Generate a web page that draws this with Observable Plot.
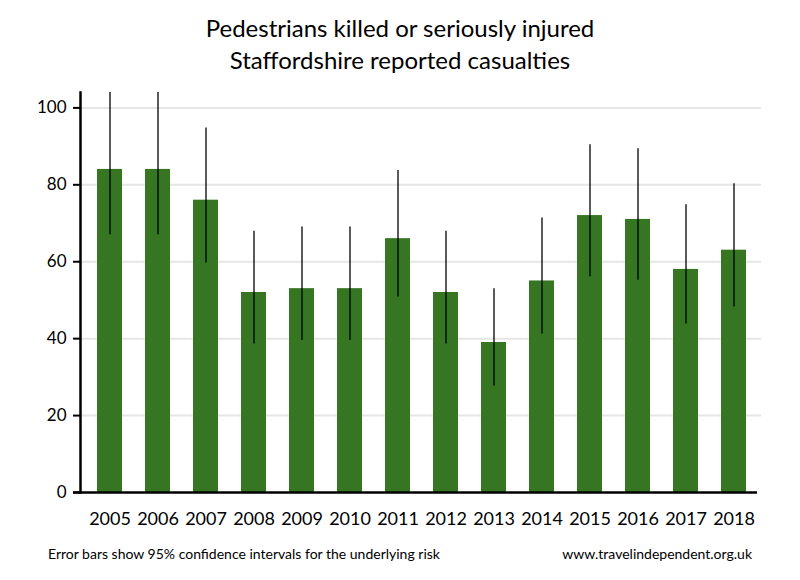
<!DOCTYPE html>
<html>
<head>
<meta charset="utf-8">
<script src="https://cdn.jsdelivr.net/npm/d3@7"></script>
<script src="https://cdn.jsdelivr.net/npm/@observablehq/plot@0.6"></script>
<style>
  body { margin: 0; background: #fff; font-family: Lato, "Open Sans", sans-serif; }
  #wrap { width: 800px; height: 580px; position: relative; }
  #title { height: 80px; text-align: center; font-size: 24px; line-height: 32px; color: #000; padding-top: 12px; box-sizing: border-box; }
  #footer { display: flex; justify-content: space-between; font-size: 14px; color: #000; padding: 5px 48px 0 48px; }
  svg { display: block; }
</style>
</head>
<body>
<div id="wrap">
  <div id="title">Pedestrians killed or seriously injured<br>Staffordshire reported casualties</div>
  <div id="chart"></div>
  <div id="footer"><span>Error bars show 95% confidence intervals for the underlying risk</span><span>www.travelindependent.org.uk</span></div>
</div>
<script>
const years = ["2005","2006","2007","2008","2009","2010","2011","2012","2013","2014","2015","2016","2017","2018"];
const values = [84, 84, 76, 52, 53, 53, 66, 52, 39, 55, 72, 71, 58, 63];
const lower  = [67, 67, 59.7, 38.6, 39.5, 39.5, 50.8, 38.6, 27.6, 41.2, 56.1, 55.2, 43.8, 48.2];
const upper  = [104, 104, 94.8, 67.9, 69.0, 69.0, 83.7, 67.9, 53.0, 71.4, 90.4, 89.4, 74.8, 80.3];
const yTicks = [0, 20, 40, 60, 80, 100];

const data = years.map((y, i) => ({year: y, value: values[i], lo: lower[i], hi: upper[i]}));

const chart = Plot.plot({
  width: 800,
  height: 460,
  marginLeft: 80,
  marginRight: 39,
  marginTop: 12,
  marginBottom: 48,
  style: {fontFamily: "Lato, 'Open Sans', sans-serif", fontSize: "17px", color: "#000", background: "#fff"},
  x: {domain: years, paddingInner: 0.48, paddingOuter: 0.24, insetLeft: 5.5, insetRight: 3.5, label: null},
  y: {domain: [0, 104], label: null},
  marks: [
    Plot.ruleY(yTicks.filter(d => d > 0), {stroke: "#e6e6e6", strokeWidth: 2}),
    Plot.barY(data, {x: "year", y: "value", fill: "#367521"}),
    Plot.ruleX(data, {x: "year", y1: "lo", y2: "hi", stroke: "#000", strokeWidth: 1.3}),
    Plot.ruleY([0], {stroke: "#000", strokeWidth: 2.5, insetLeft: -7, insetRight: 4}),
    Plot.frame({anchor: "left", stroke: "#000", strokeWidth: 2.5}),
    Plot.axisY({ticks: yTicks, tickSize: 7, tickPadding: 7, strokeWidth: 2, stroke: "#000", fontSize: 17}),
    Plot.axisX({tickSize: 0, tickPadding: 20, fontSize: 18})
  ]
});
document.getElementById("chart").appendChild(chart);
</script>
</body>
</html>
